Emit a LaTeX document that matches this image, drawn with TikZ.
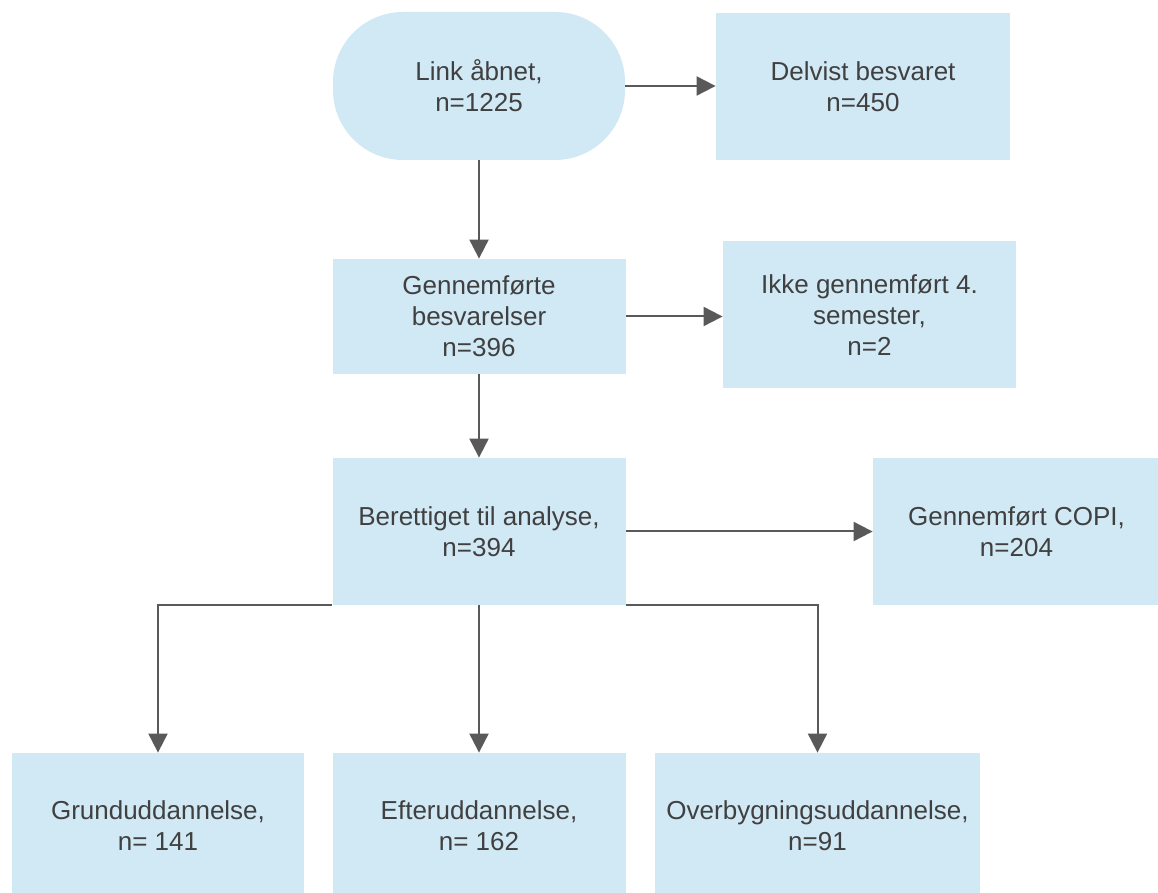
\documentclass[tikz,border=0pt]{standalone}
\usepackage{fontspec}
\setmainfont{Liberation Sans}
\usetikzlibrary{arrows.meta}
\definecolor{boxfill}{HTML}{D1E8F5}
\definecolor{txt}{HTML}{404040}
\definecolor{edge}{HTML}{595959}
\tikzset{
  box/.style={fill=boxfill, draw=none, inner sep=0pt, align=center, text=txt,
    font=\fontsize{13}{15.5}\selectfont},
  conn/.style={draw=edge, line width=1pt, -{Triangle[length=9.5pt,width=9.5pt]}},
}
\begin{document}
\begin{tikzpicture}[x=0.5pt,y=-0.5pt]
\useasboundingbox (0,0) rectangle (1158,893);
\node[box, rounded corners=35pt, minimum width=146pt, minimum height=74pt] (link) at (479,86) {Link åbnet,\\n=1225};
\node[box, minimum width=147pt, minimum height=73.5pt] (delvist) at (863,86.5) {Delvist besvaret\\n=450};
\node[box, minimum width=146.5pt, minimum height=57.5pt] (genn) at (479,316.5) {Gennemførte\\besvarelser\\n=396};
\node[box, minimum width=146.5pt, minimum height=73.5pt] (ikke) at (869.5,315) {Ikke gennemført 4.\\semester,\\n=2};
\node[box, minimum width=146.5pt, minimum height=73.5pt] (ber) at (479,531.5) {Berettiget til analyse,\\n=394};
\node[box, minimum width=143.5pt, minimum height=73.5pt] (copi) at (1016.5,531.5) {Gennemført COPI,\\n=204};
\node[box, minimum width=146pt, minimum height=73pt] (grund) at (158,826) {Grunduddannelse,\\n= 141};
\node[box, minimum width=146.5pt, minimum height=73pt] (efter) at (479,826) {Efteruddannelse,\\n= 162};
\node[box, minimum width=162.5pt, minimum height=73pt] (over) at (817.5,826) {Overbygningsuddannelse,\\n=91};
\draw[conn] (link.east) -- (delvist.west |- link.east);
\draw[conn] (genn.east) -- (ikke.west |- genn.east);
\draw[conn] (ber.east) -- (copi.west |- ber.east);
\draw[conn] (link.south) -- (genn.north);
\draw[conn] (genn.south) -- (ber.north);
\draw[conn] (ber.south) -- (efter.north);
\draw[conn] (ber.south west) -- (grund.north |- ber.south west) -- (grund.north);
\draw[conn] (ber.south east) -- (over.north |- ber.south east) -- (over.north);
\end{tikzpicture}
\end{document}
